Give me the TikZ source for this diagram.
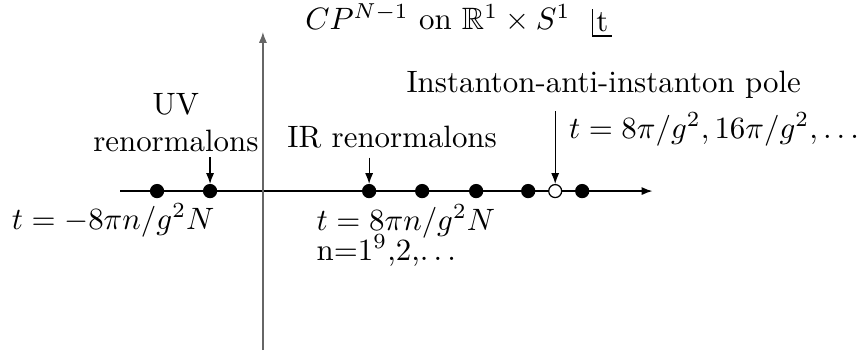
\documentclass[tikz,border=0pt]{standalone}
\usepackage{amsmath,amssymb}
\usepackage{tikz}
\usetikzlibrary{arrows.meta,positioning}

\begin{document}
\begin{tikzpicture}[pole/.style={circle, draw, fill=black, inner sep=0pt, minimum size=4.2pt}, bion/.style={pole, fill=white}, lbl/.style={inner sep=1pt}, arr/.style={-{Latex[length=3.5pt,width=2.6pt]}}]
\useasboundingbox (0,0) rectangle (9.86,4.107);
% axes of the Borel plane
\coordinate (xs) at (1.365,1.934);
\coordinate (xe) at (7.42,1.934);
\coordinate (ys) at (2.99,0.125);
\coordinate (ye) at (2.99,3.743);
\draw[arr] (xs) -- (xe);
\draw[arr, gray!80!black] (ys) -- (ye);
% singularities
\node[pole] (uv1) at (1.786,1.934) {};
\node[pole] (uv2) at (2.389,1.934) {};
\node[pole] (ir1) at (4.198,1.934) {};
\node[pole] (ir2) at (4.801,1.934) {};
\node[pole] (ir3) at (5.415,1.934) {};
\node[pole] (ir4) at (6.007,1.934) {};
\node[bion] (ia) at (6.314,1.934) {};
\node[pole] (ir5) at (6.621,1.934) {};
% labels
\node[lbl, anchor=base] (title) at (4.98,3.766) {$CP^{N-1}$ on $\mathbb{R}^1\times S^1$};
\node[lbl] (tlab) at (6.85,3.851) {t};
\draw (tlab.north west) |- (tlab.south east);
\node[lbl, inner sep=1.5pt, anchor=south, align=center] (uvlab) at (2.0,2.321) {UV\\renormalons};
\node[lbl, anchor=base] (irlab) at (4.46,2.435) {IR renormalons};
\node[lbl, anchor=base] (ialab) at (6.866,3.06) {Instanton-anti-instanton pole};
\node[lbl, anchor=base west] (iaform) at (6.43,2.537) {$t=8\pi/g^2, 16\pi/g^2,\dots$};
\node[lbl, anchor=base east] (uvform) at (2.48,1.502) {$t=-8\pi n/g^2N$};
\node[lbl, anchor=base west] (irform) at (3.56,1.49) {$t=8\pi n/g^2N$};
\node[lbl, anchor=base west] (irn) at (3.56,1.149) {n=1$^9$,2,$\ldots$};
\draw[arr] (uvlab.south -| uv2) -- (uv2);
\draw[arr, shorten <=2pt] (irlab.south -| ir1) -- (ir1);
\draw[arr, shorten <=3pt] (ialab.south -| ia) -- (ia);
\end{tikzpicture}
\end{document}
